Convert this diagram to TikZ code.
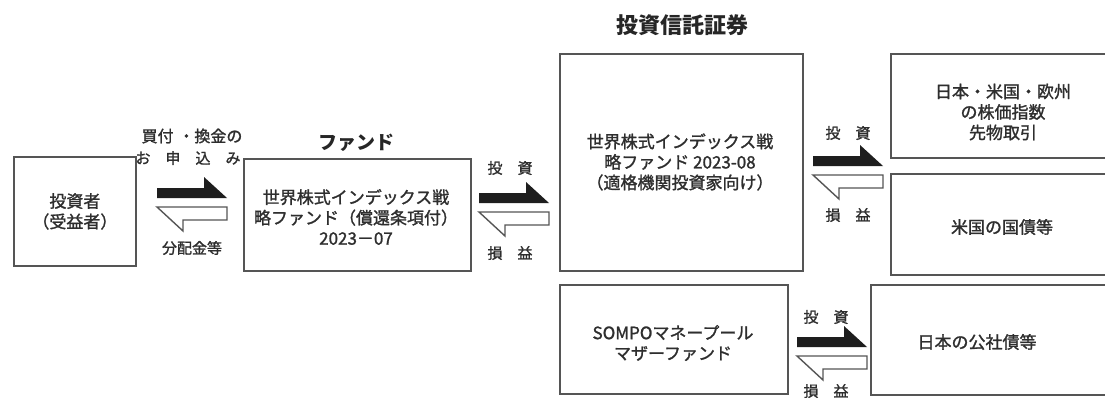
\documentclass[tikz,border=0pt]{standalone}
\usepackage{fontspec}
\setmainfont{Noto Sans CJK JP}
\newfontfamily\medjp{Noto Sans CJK JP}[RawFeature={embolden=1.4}]
\definecolor{ink}{HTML}{2E2E2E}
\definecolor{edge}{HTML}{555555}
\definecolor{fillblk}{HTML}{1E1E1E}
\begin{document}
\begin{tikzpicture}[x=1pt,y=-1pt,
  box/.style={draw=edge, line width=1.8pt, rectangle, inner sep=0pt, anchor=north west},
  boxtext/.style={text=ink, inner sep=0pt, align=center, font=\medjp\fontsize{17}{20.5}\selectfont},
  lbl/.style={text=ink, inner sep=0pt, font=\medjp\fontsize{15}{17}\selectfont},
  ttl/.style={text=black!85, inner sep=0pt, font=\bfseries\fontsize{19}{22}\selectfont},
  swap/.pic={
    \fill[fillblk] (0,0) -- (47,0) -- (47,-11) -- (70,10) -- (0,10) -- cycle;
    \draw[edge, line width=1.4pt, fill=white, line join=miter] (0,19) -- (70,19) -- (70,32) -- (26,32) -- (26,43) -- cycle;
  }
]
\useasboundingbox (0,0) rectangle (1105,401);
\clip (0,0) rectangle (1105,401);

% boxes
\node[box, minimum width=122pt, minimum height=109pt] (inv) at (13,156) {};
\node[box, minimum width=227pt, minimum height=112pt] (fund) at (243,158) {};
\node[box, minimum width=243pt, minimum height=217pt] (trust) at (559,53) {};
\node[box, minimum width=240pt, minimum height=104pt] (fut) at (890,53) {};
\node[box, minimum width=240pt, minimum height=101pt] (usb) at (890,173) {};
\node[box, minimum width=228pt, minimum height=109pt] (sompo) at (559,284) {};
\node[box, minimum width=260pt, minimum height=110pt] (jpb) at (870,284) {};

% box texts
\node[boxtext] (invt) at (inv.center) {投資者\\（受益者）};
\node[boxtext] (fundt) at (356,217) {世界株式インデックス戦\\略ファンド（償還条項付）\\2023－07};
\node[boxtext] (trustt) at (680,162) {世界株式インデックス戦\\略ファンド 2023-08\\（適格機関投資家向け）};
\node[boxtext] (futt) at (1003,112) {日本・米国・欧州\\の株価指数\\先物取引};
\node[boxtext] (usbt) at (1002,227) {米国の国債等};
\node[boxtext] (sompot) at (673,343) {SOMPOマネープール\\マザーファンド};
\node[boxtext] (jpbt) at (977,342) {日本の公社債等};

% titles
\node[ttl] (fundttl) at (356,143) {ファンド};
\node[ttl, font=\bfseries\fontsize{22}{24}\selectfont] (trustttl) at (682,25) {投資信託証券};

% arrow pairs
\pic at (157,188) {swap};
\pic at (479,193) {swap};
\pic at (813,156) {swap};
\pic at (797,337) {swap};

% arrow labels
\node[lbl, font=\medjp\fontsize{16}{18}\selectfont] (l1a) at (192,136) {買付\hspace{0.3em}・換金の};
\node[lbl] (l1b) at (188,158) {お　申　込　み};
\node[lbl] (l1c) at (192,248) {分配金等};
\node[lbl] (l2a) at (510,168) {投　資};
\node[lbl] (l2b) at (510,253) {損　益};
\node[lbl] (l3a) at (848,133) {投　資};
\node[lbl] (l3b) at (848,215) {損　益};
\node[lbl] (l4a) at (826,317) {投　資};
\node[lbl] (l4b) at (826,391) {損　益};
\end{tikzpicture}
\end{document}
